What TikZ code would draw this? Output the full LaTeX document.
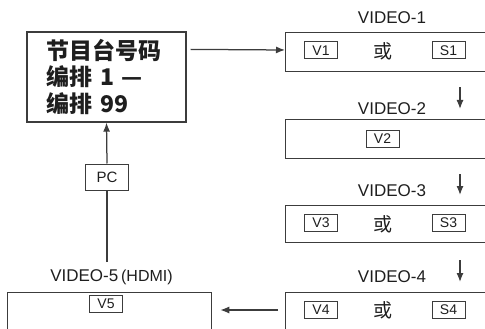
\documentclass[tikz,border=0pt]{standalone}
\usepackage{fontspec}
\setmainfont{Liberation Sans}
\newfontfamily\cjk{Noto Sans CJK SC}
\usetikzlibrary{arrows.meta,calc}
\definecolor{linec}{HTML}{3C3C3C}
\definecolor{textc}{HTML}{1E1E1E}
\tikzset{
  bigbox/.style={draw=linec, line width=1.25pt, anchor=north west, inner sep=0pt},
  tag/.style={draw=linec, line width=1pt, minimum width=33pt, minimum height=17pt, inner sep=0pt, text=textc, font=\fontsize{14}{14}\selectfont},
  orc/.style={inner sep=0pt, text=textc, font=\cjk\fontsize{19}{19}\selectfont},
  lab/.style={inner sep=0pt, text=textc, font=\fontsize{17}{17}\selectfont},
  arr/.style={draw=linec, line width=1.25pt, -{Latex[length=9pt,width=7pt]}},
  ln/.style={draw=linec, line width=1.25pt},
}
\begin{document}
\begin{tikzpicture}[x=1pt,y=-1pt]
\useasboundingbox (0,0) rectangle (485,329);
\clip (0,0) rectangle (485,329);
% main box
\node[draw=linec, line width=1.25pt, minimum width=159pt, minimum height=90pt, inner sep=0pt,
      text width=120pt, align=left, text=textc,
      font=\cjk\bfseries\fontsize{23}{26.5}\selectfont] (main) at (106.5,77)
  {\raisebox{3pt}{节目台号码}\\ \raisebox{3pt}{编排 1 —}\\ \raisebox{3pt}{编排 99}};
% right column boxes
\node[bigbox, minimum width=220pt, minimum height=39pt] (v1box) at (285,32) {};
\node[bigbox, minimum width=220pt, minimum height=39pt] (v2box) at (285,119) {};
\node[bigbox, minimum width=220pt, minimum height=37pt] (v3box) at (285,205) {};
\node[bigbox, minimum width=220pt, minimum height=60pt] (v4box) at (285,292) {};
\node[bigbox, minimum width=204pt, minimum height=60pt] (v5box) at (7,292) {};
% labels
\node[lab] (l1) at (392,18) {VIDEO-1};
\node[lab] (l2) at (392,109) {VIDEO-2};
\node[lab] (l3) at (392,191) {VIDEO-3};
\node[lab] (l4) at (392,277) {VIDEO-4};
\node[lab] (l5) at (111.5,277) {VIDEO-5\,{\fontsize{16}{16}\selectfont(HDMI)}};
% tags
\node[tag] (tv1) at (321,50.5) {V1};
\node[orc] (or1) at (383,51) {或};
\node[tag] (ts1) at (448.5,50.5) {S1};
\node[tag] (tv2) at (382.5,138.5) {V2};
\node[tag] (tv3) at (321,223) {V3};
\node[orc] (or3) at (383,224) {或};
\node[tag] (ts3) at (448.5,223) {S3};
\node[tag] (tv4) at (321,310) {V4};
\node[orc] (or4) at (383,310.5) {或};
\node[tag] (ts4) at (448.5,310) {S4};
\node[tag] (tv5) at (106,303.5) {V5};
% PC
\node[draw=linec, line width=1pt, minimum width=43pt, minimum height=26pt, inner sep=0pt, text=textc, font=\fontsize{15}{15}\selectfont] (pc) at (107,177) {PC};
\coordinate (pcstart) at (107,262);
% connectors
\draw[arr] ($(main.north east)+(4,18)$) -- ($(v1box.north west)+(0,18)$);
\draw[arr] ($(v1box.south west)+(175,15)$) -- ($(v2box.north west)+(175,-10)$);
\draw[arr] ($(v2box.south west)+(175,15)$) -- ($(v3box.north west)+(175,-10)$);
\draw[arr] ($(v3box.south west)+(175,17)$) -- ($(v4box.north west)+(175,-10)$);
\draw[arr] ($(v4box.north west)+(-7,18)$) -- ($(v5box.north east)+(8,18)$);
\draw[ln] (pcstart) -- (pc.south);
\draw[arr] (pc.north) -- (main.south);
\end{tikzpicture}
\end{document}
